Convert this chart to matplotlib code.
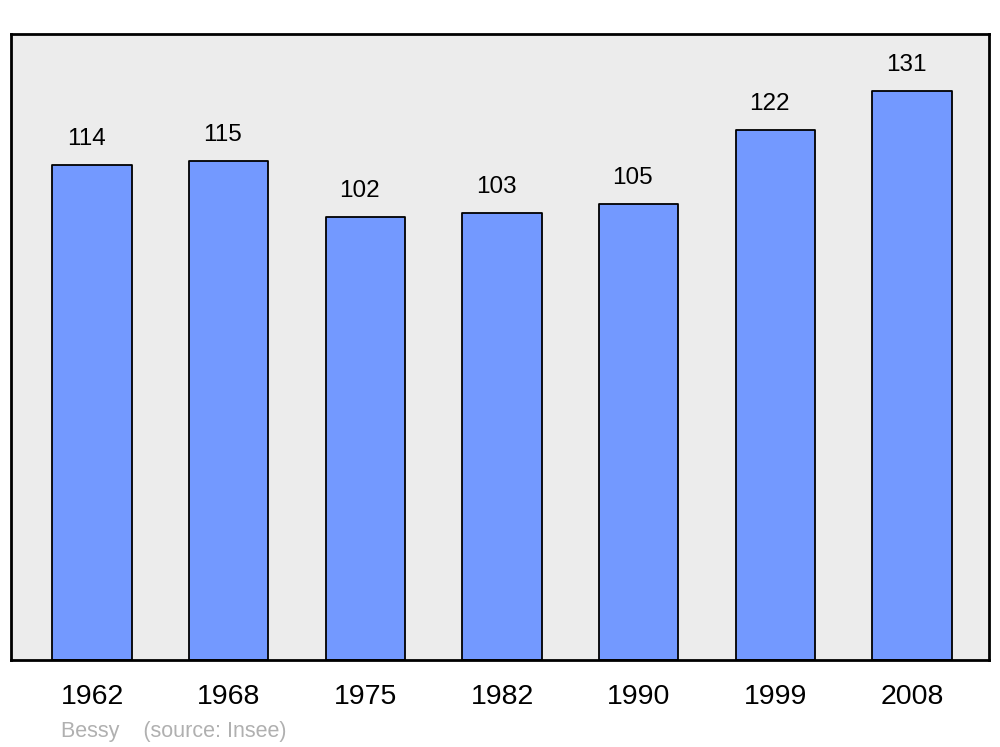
import matplotlib
matplotlib.use("Agg")
import matplotlib.pyplot as plt

annees = ["1962", "1968", "1975", "1982", "1990", "1999", "2008"]
population = [114, 115, 102, 103, 105, 122, 131]

plt.rcParams['font.family'] = ['Liberation Sans', 'DejaVu Sans']

fig = plt.figure(figsize=(10, 7.47), dpi=100)
ax = fig.add_axes([0.011, 1 - 660 / 747, 0.978, 626 / 747])
ax.set_facecolor('#ececec')

x = list(range(len(annees)))
ax.bar(x, population, width=0.58, color='#7399ff', edgecolor='black',
       linewidth=1.3, joinstyle='round')

for xi, v in zip(x, population):
    ax.annotate(str(v), (xi, v), xytext=(-6, 26), textcoords='offset pixels',
                ha='center', va='center', fontsize=17.5)

ax.set_xlim(-0.593, 6.563)
ax.set_ylim(0, 144.2)
ax.set_yticks([])
ax.set_xticks(x)
ax.set_xticklabels(annees, fontsize=20.5)
ax.tick_params(axis='x', length=0, pad=17)
for s in ax.spines.values():
    s.set_linewidth(2)
    s.set_joinstyle('round')

fig.text(0.061, 1 - 731 / 747, "Bessy    (source: Insee)", color='#b0b0b0',
         fontsize=15.5, va='center', ha='left')

fig.savefig("out.png", dpi=100)
